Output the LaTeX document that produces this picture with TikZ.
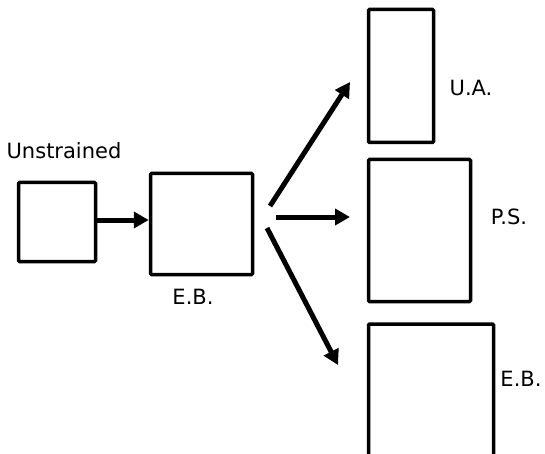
\documentclass[tikz,border=0pt]{standalone}
\usepackage{fontspec}
\setmainfont{DejaVu Sans}
\usetikzlibrary{arrows.meta}
\begin{document}
\begin{tikzpicture}[x=1pt,y=-1pt,
  box/.style={draw=black,line width=3.5pt,inner sep=0pt,rounded corners=1pt},
  conn/.style={line width=5pt,-{Triangle[length=15pt,width=16pt]}},
  lbl/.style={font=\fontsize{21}{25}\selectfont,inner sep=0pt}]
\clip (0,0) rectangle (545,454);
\fill[white] (0,0) rectangle (545,454);
% boxes
\node[box,minimum width=77pt,minimum height=79pt] (A) at (57,222) {};
\node[box,minimum width=102pt,minimum height=101pt] (B) at (201.5,224) {};
\node[box,minimum width=65pt,minimum height=133pt] (UA) at (401,76) {};
\node[box,minimum width=102pt,minimum height=142pt] (PS) at (419.5,230.5) {};
\node[box,minimum width=125pt,minimum height=160pt] (EB) at (431,404) {};
% labels
\node[lbl] (tU) at (64,151) {Unstrained};
\node[lbl] (tB) at (193,297) {E.B.};
\node[lbl] (tUA) at (471,88) {U.A.};
\node[lbl] (tPS) at (509,217) {P.S.};
\node[lbl] (tEB) at (521,379) {E.B.};
% connector coordinates
\coordinate (s1) at (270,206);
\coordinate (e1) at (350,82);
\coordinate (s2) at (276,217);
\coordinate (e2) at (350,217);
\coordinate (s3) at (267,228);
\coordinate (e3) at (338,365);
% connectors
\draw[conn] (A.east |- 0,220) -- (B.west |- 0,220);
\draw[conn] (s1) -- (e1);
\draw[conn] (s2) -- (e2);
\draw[conn] (s3) -- (e3);
\end{tikzpicture}
\end{document}
